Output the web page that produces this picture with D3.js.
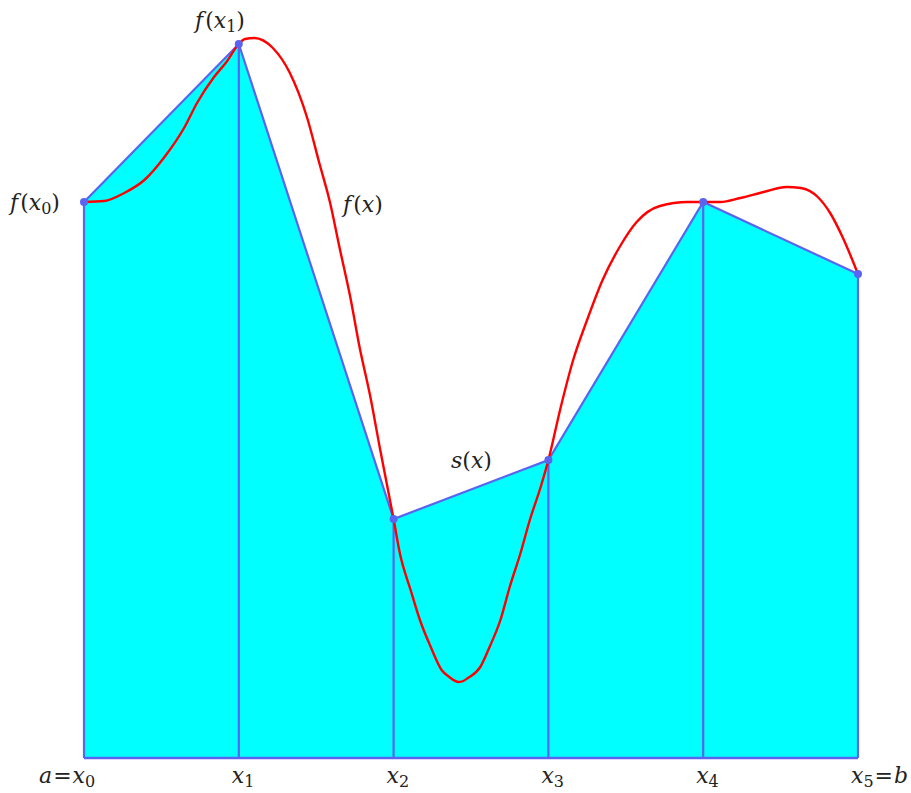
<!DOCTYPE html>
<html>
<head>
<meta charset="utf-8">
<script src="https://cdn.jsdelivr.net/npm/d3@7"></script>
<style>
  body { margin: 0; background: #fff; }
</style>
</head>
<body>
<div id="chart"></div>
<script>
// nodes x0..x5 and their function values
const nodeX = [0, 1, 2, 3, 4, 5];
const nodeY = [5.56, 7.14, 2.39, 2.98, 5.56, 4.84];

const curveX = [0, 0.13, 0.26, 0.39, 0.52, 0.65, 0.73, 0.84, 0.92, 1.0, 1.04, 1.1, 1.22, 1.33, 1.44, 1.52, 1.59, 1.65, 1.72, 1.78, 1.85, 1.91, 2.0,
  2.04, 2.11, 2.17, 2.24, 2.31, 2.36, 2.42, 2.45, 2.48, 2.56, 2.62, 2.69, 2.75, 2.82, 2.88, 2.95, 3.0,
  3.08, 3.16, 3.25, 3.35, 3.46, 3.57, 3.72, 3.9, 4.0,
  4.11, 4.24, 4.39, 4.54, 4.63, 4.74, 4.82, 4.9, 5.0];
const curveY = [5.56, 5.57, 5.65, 5.78, 6.01, 6.31, 6.55, 6.81, 6.96, 7.14, 7.19, 7.2, 7.1, 6.85, 6.41, 5.95, 5.55, 5.11, 4.61, 4.11, 3.61, 3.11, 2.39,
  2.05, 1.68, 1.38, 1.11, 0.88, 0.81, 0.76, 0.77, 0.8, 0.91, 1.11, 1.38, 1.71, 2.05, 2.38, 2.71, 2.98,
  3.51, 3.98, 4.38, 4.78, 5.11, 5.36, 5.52, 5.56, 5.56,
  5.56, 5.6, 5.66, 5.71, 5.7, 5.61, 5.45, 5.21, 4.84];

const tickLabels = [["a=", "x", "0", ""], ["", "x", "1", ""], ["", "x", "2", ""], ["", "x", "3", ""], ["", "x", "4", ""], ["", "x", "5", "=b"]];

const W = 911, H = 793;
const svg = d3.select("#chart").append("svg")
    .attr("width", W)
    .attr("height", H);

const x = d3.scaleLinear().domain([0, 5]).range([84, 858]);
const y = d3.scaleLinear().domain([0, 7.58]).range([758, 0]);

const blue = "#5a64f0";
const serif = "DejaVu Serif";

// trapezoids
const area = d3.area()
    .x((d, i) => x(nodeX[i]))
    .y0(y(0))
    .y1(d => y(d));
svg.append("path")
    .datum(nodeY)
    .attr("d", area)
    .attr("fill", "#00ffff");

// vertical lines
svg.selectAll(".vline")
    .data(nodeX)
    .join("line")
    .attr("x1", d => x(d)).attr("x2", d => x(d))
    .attr("y1", y(0)).attr("y2", (d, i) => y(nodeY[i]))
    .attr("stroke", blue)
    .attr("stroke-width", 2.2);

// baseline
svg.append("line")
    .attr("x1", x(0)).attr("x2", x(5))
    .attr("y1", y(0)).attr("y2", y(0))
    .attr("stroke", blue)
    .attr("stroke-width", 2.5);

// s(x)
const sLine = d3.line()
    .x((d, i) => x(nodeX[i]))
    .y(d => y(d));
svg.append("path")
    .datum(nodeY)
    .attr("d", sLine)
    .attr("fill", "none")
    .attr("stroke", blue)
    .attr("stroke-width", 2.2);

// f(x)
const fLine = d3.line()
    .x((d, i) => x(curveX[i]))
    .y(d => y(d))
    .curve(d3.curveMonotoneX);
svg.append("path")
    .datum(curveY)
    .attr("d", fLine)
    .attr("fill", "none")
    .attr("stroke", "#ff0000")
    .attr("stroke-width", 2.4);

// points
svg.selectAll(".pt")
    .data(nodeY)
    .join("circle")
    .attr("cx", (d, i) => x(nodeX[i]))
    .attr("cy", d => y(d))
    .attr("r", 4)
    .attr("fill", blue);

// math-like label helper
function mathLabel(g, parts, anchor) {
  const t = g.append("text")
      .style("font-family", serif)
      .attr("font-size", 22)
      .attr("fill", "#222")
      .attr("text-anchor", anchor || "start");
  parts.forEach(p => {
    const s = t.append("tspan").text(p.t);
    if (p.it) s.style("font-style", "italic");
    if (p.sub) s.attr("font-size", 16).attr("dy", 4);
    if (p.up) s.attr("dy", -4);
    if (p.dx) s.attr("dx", p.dx);
  });
  return t;
}

// tick labels
tickLabels.forEach((l, i) => {
  const g = svg.append("g").attr("transform", `translate(${x(nodeX[i]) - 7},783)`);
  const parts = [];
  if (l[0]) parts.push({ t: "a", it: true }, { t: "=", dx: 1 });
  parts.push({ t: l[1], it: true, dx: l[0] ? 1 : 0 }, { t: l[2], sub: true });
  if (l[3]) parts.push({ t: "=", up: true, dx: 1 }, { t: "b", it: true, dx: 1 });
  const t = mathLabel(g, parts, "start");
  if (l[0]) t.attr("x", -38);
});

// f(x0), f(x1), f(x), s(x)
mathLabel(svg.append("g").attr("transform", "translate(10,210)"),
  [{ t: "f", it: true }, { t: "(", dx: 2 }, { t: "x", it: true }, { t: "0", sub: true }, { t: ")", up: true }]);
mathLabel(svg.append("g").attr("transform", "translate(195,28)"),
  [{ t: "f", it: true }, { t: "(", dx: 2 }, { t: "x", it: true }, { t: "1", sub: true }, { t: ")", up: true }]);
mathLabel(svg.append("g").attr("transform", "translate(343,212)"),
  [{ t: "f", it: true }, { t: "(", dx: 2 }, { t: "x", it: true }, { t: ")" }]);
mathLabel(svg.append("g").attr("transform", "translate(451,468)"),
  [{ t: "s", it: true }, { t: "(" }, { t: "x", it: true }, { t: ")" }]);
</script>
</body>
</html>
